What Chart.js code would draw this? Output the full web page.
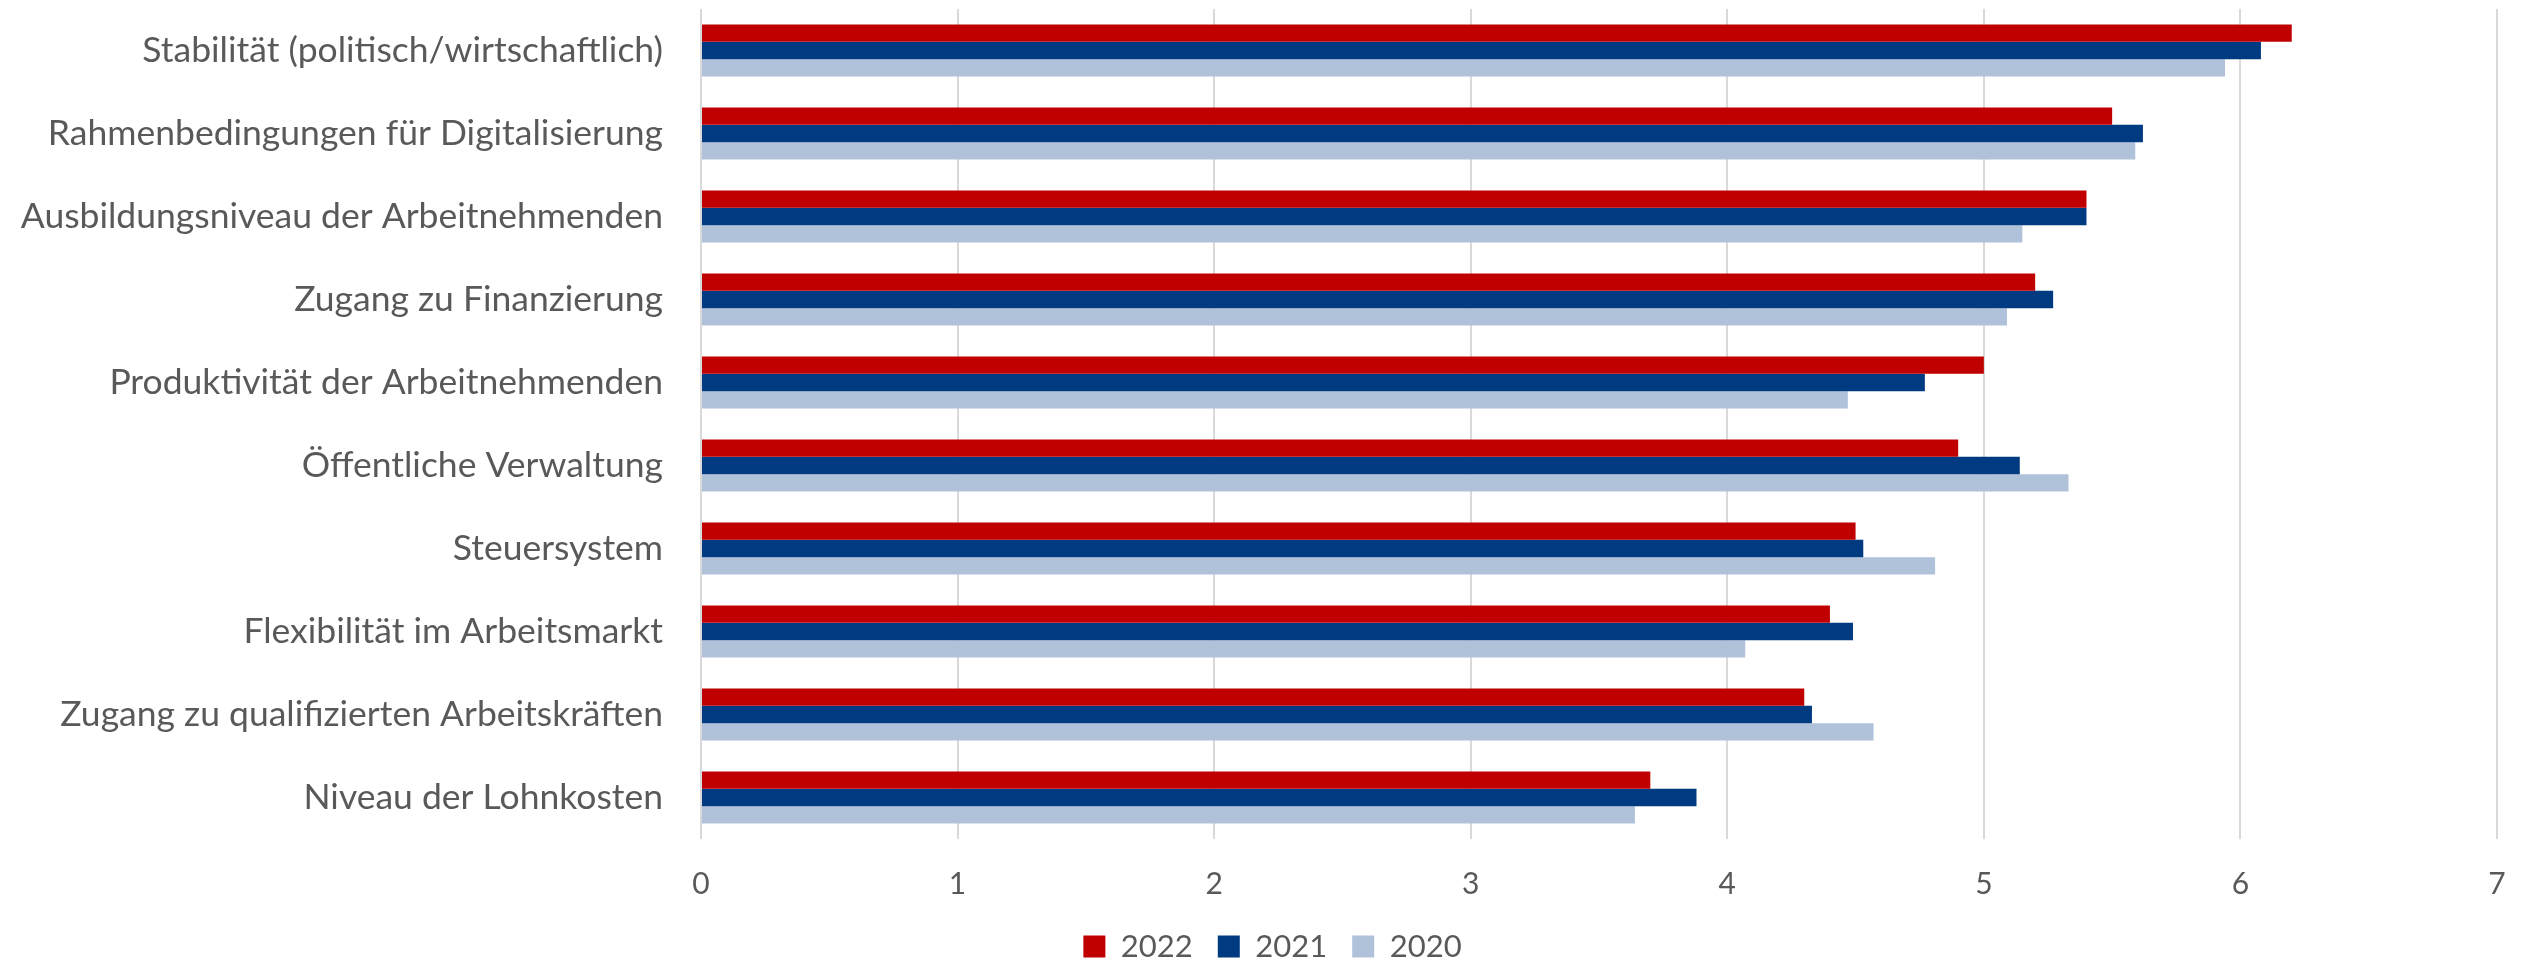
<!DOCTYPE html>
<html>
<head>
<meta charset="utf-8">
<script src="https://cdn.jsdelivr.net/npm/chart.js@4"></script>
<style>
  html, body { margin: 0; padding: 0; background: #ffffff; }
  #wrap { width: 2523px; height: 964px; }
</style>
</head>
<body>
<div id="wrap"><canvas id="c" width="2523" height="964"></canvas></div>
<script>
const categories = [
  "Stabilität (politisch/wirtschaftlich)",
  "Rahmenbedingungen für Digitalisierung",
  "Ausbildungsniveau der Arbeitnehmenden",
  "Zugang zu Finanzierung",
  "Produktivität der Arbeitnehmenden",
  "Öffentliche Verwaltung",
  "Steuersystem",
  "Flexibilität im Arbeitsmarkt",
  "Zugang zu qualifizierten Arbeitskräften",
  "Niveau der Lohnkosten"
];
const seriesNames = ["2022", "2021", "2020"];
const values2022 = [6.2, 5.5, 5.4, 5.2, 5.0, 4.9, 4.5, 4.4, 4.3, 3.7];
const values2021 = [6.08, 5.62, 5.4, 5.27, 4.77, 5.14, 4.53, 4.49, 4.33, 3.88];
const values2020 = [5.94, 5.59, 5.15, 5.09, 4.47, 5.33, 4.81, 4.07, 4.57, 3.64];
const xTickValues = [0, 1, 2, 3, 4, 5, 6, 7];

const colors = ["#C00000", "#003A80", "#B0C1DA"];
const textColor = "#595959";
const fontFamily = "Lato, 'Noto Sans', sans-serif";

// small layout tweak: legend sits slightly right of the canvas centre in the original
const legendShift = {
  id: "legendShift",
  afterLayout(chart) {
    const l = chart.legend;
    if (l) { l.left += 24; l.right += 24; }
  }
};

const ctx = document.getElementById("c").getContext("2d");
new Chart(ctx, {
  type: "bar",
  data: {
    labels: categories,
    datasets: [
      { label: seriesNames[0], data: values2022, backgroundColor: colors[0] },
      { label: seriesNames[1], data: values2021, backgroundColor: colors[1] },
      { label: seriesNames[2], data: values2020, backgroundColor: colors[2] }
    ]
  },
  plugins: [legendShift],
  options: {
    indexAxis: "y",
    responsive: false,
    animation: false,
    devicePixelRatio: 1,
    datasets: {
      bar: { categoryPercentage: 0.625, barPercentage: 1.0, borderWidth: 0 }
    },
    layout: { autoPadding: false, padding: { top: 9, right: 26, left: 0, bottom: -8 } },
    scales: {
      x: {
        min: xTickValues[0],
        max: xTickValues[xTickValues.length - 1],
        afterBuildTicks: (s) => { s.ticks = xTickValues.map(v => ({ value: v })); },
        ticks: { color: textColor, font: { family: fontFamily, size: 30 }, padding: 27 },
        grid: { color: "#D9D9D9", lineWidth: 2, drawTicks: false },
        border: { display: false },
        afterFit: (s) => { s.height = 67; s.paddingLeft = 0; s.paddingRight = 0; }
      },
      y: {
        grid: { display: false, drawTicks: false },
        border: { display: false },
        ticks: { color: textColor, font: { family: fontFamily, size: 35.5 }, padding: 38 },
        afterFit: (s) => { s.width = 701; s.paddingTop = 0; s.paddingBottom = 0; }
      }
    },
    plugins: {
      legend: {
        position: "bottom",
        labels: {
          boxWidth: 22, boxHeight: 22, padding: 25,
          color: textColor, font: { family: fontFamily, size: 31 }
        }
      },
      tooltip: { enabled: false },
      title: { display: false }
    }
  }
});
</script>
</body>
</html>
